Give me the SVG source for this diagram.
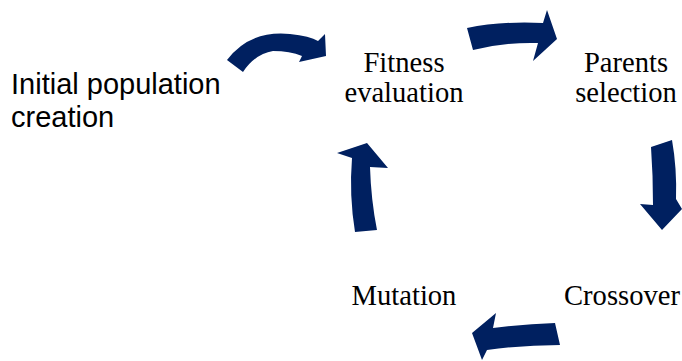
<svg xmlns="http://www.w3.org/2000/svg" width="682" height="361" viewBox="0 0 682 361">
  <style>
    .arrow { fill: #002060; stroke: none; }
    .serif { font-family: "Liberation Serif", "Times New Roman", serif; font-size: 28.6px; fill: #000; text-anchor: middle; }
    .sans { font-family: "Liberation Sans", Arial, sans-serif; font-size: 29px; fill: #000; }
  </style>
  <rect width="682" height="361" fill="#ffffff"/>

  <g id="connectors">
    <!-- initial population -> fitness evaluation -->
    <path class="arrow" d="M227,60 Q250,30 290,34 Q310,36 318,41 L325,34 L326,56 L299,62 L302,56 Q290,51 273,51 Q255,54 243,72 Z"/>
    <!-- fitness evaluation -> parents selection -->
    <path class="arrow" d="M467,28 Q500,21 543,23 L547,10 L557,39 L533,61 L538,43 Q505,42 473,50 Z"/>
    <!-- parents selection -> crossover -->
    <path class="arrow" d="M651,147 L672,140 Q677,168 676,199 L682,209 L662,230 L640,204 L653,205 Q653,175 651,147 Z"/>
    <!-- crossover -> mutation -->
    <path class="arrow" d="M555,323 L560,345 Q523,345 487,350 L482,360 L472,333 L496,313 L493,328 Q525,324 555,323 Z"/>
    <!-- mutation -> fitness evaluation -->
    <path class="arrow" d="M355,232 L377,230 Q371,200 370,167 L388,168 L367,143 L337,153 L352,158 Q349,195 355,232 Z"/>
  </g>

  <g id="initial-population">
    <text class="sans" x="11" y="94">Initial population</text>
    <text class="sans" x="11" y="127">creation</text>
  </g>
  <g id="fitness-evaluation">
    <text class="serif" x="404" y="72">Fitness</text>
    <text class="serif" x="404" y="102">evaluation</text>
  </g>
  <g id="parents-selection">
    <text class="serif" x="626" y="72">Parents</text>
    <text class="serif" x="626" y="102">selection</text>
  </g>
  <g id="crossover">
    <text class="serif" x="622" y="305">Crossover</text>
  </g>
  <g id="mutation">
    <text class="serif" x="404" y="305">Mutation</text>
  </g>
</svg>
